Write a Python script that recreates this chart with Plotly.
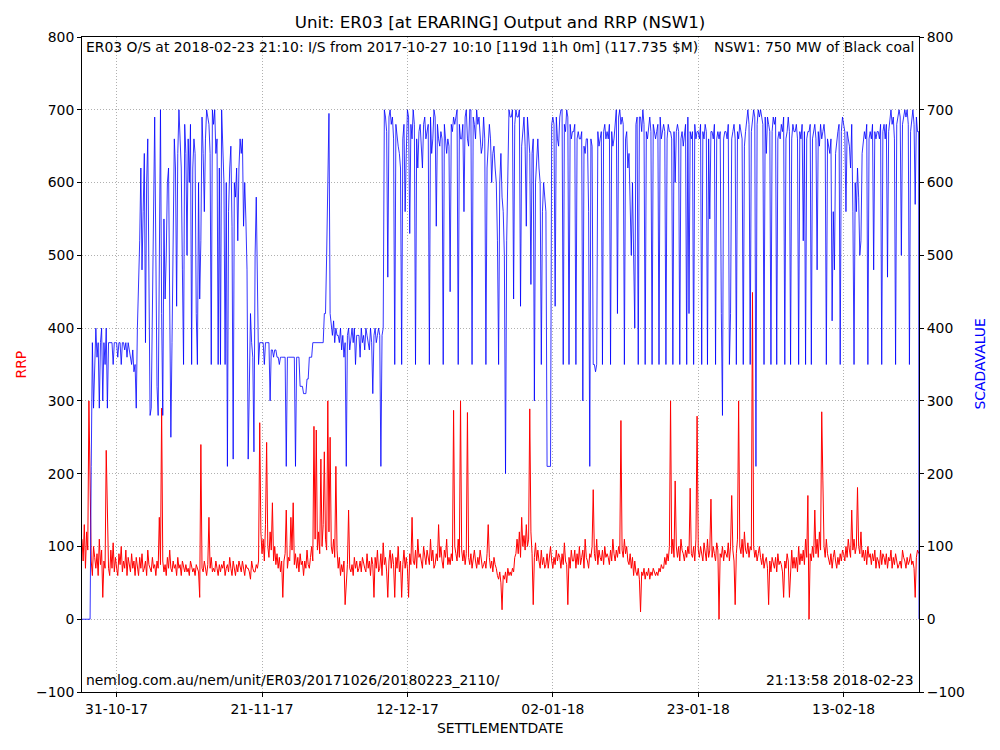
import pandas as pd
import plotly.graph_objects as go

# ---- data (4-hourly readings, 2017-10-26 00:00 onward) ----
start_time = "2017-10-26 00:00"
final_time = "2018-02-23 21:10"

scada_mw = [
    0, 0, 0, 0, 0, 0,
    0, 0, 210, 380, 290, 370,
    400, 360, 380, 290, 380, 400,
    300, 380, 350, 400, 290, 380,
    380, 380, 380, 350, 380, 380,
    380, 360, 380, 380, 350, 380,
    380, 370, 380, 360, 380, 370,
    360, 350, 370, 340, 350, 290,
    400, 450, 520, 620, 480, 560,
    640, 380, 600, 660, 450, 280,
    290, 460, 560, 690, 500, 320,
    280, 560, 700, 420, 280, 550,
    440, 500, 600, 620, 400, 250,
    380, 500, 660, 620, 430, 640,
    700, 660, 620, 480, 350, 680,
    640, 500, 660, 600, 680, 350,
    620, 660, 640, 420, 350, 600,
    440, 520, 690, 640, 560, 660,
    700, 690, 680, 640, 350, 700,
    680, 700, 640, 660, 350, 620,
    350, 700, 650, 600, 350, 600,
    210, 560, 620, 650, 540, 220,
    600, 580, 620, 520, 620, 660,
    640, 660, 540, 600, 550, 480,
    220, 350, 420, 380, 360, 230,
    500, 580, 420, 350, 380, 380,
    380, 380, 350, 380, 380, 380,
    380, 300, 370, 370, 360, 370,
    370, 360, 360, 350, 360, 360,
    360, 360, 360, 210, 360, 360,
    360, 360, 360, 360, 360, 210,
    360, 360, 360, 320, 320, 320,
    310, 310, 310, 330, 330, 360,
    360, 360, 380, 380, 380, 380,
    380, 380, 380, 380, 380, 380,
    420, 420, 500, 620, 695, 420,
    400, 390, 410, 380, 400, 390,
    390, 380, 400, 370, 390, 360,
    380, 210, 390, 400, 370, 390,
    400, 380, 400, 350, 390, 390,
    390, 360, 400, 380, 390, 370,
    400, 390, 380, 370, 400, 380,
    310, 390, 400, 380, 390, 400,
    390, 210, 390, 400, 700, 690,
    670, 470, 690, 700, 680, 690,
    660, 350, 680, 660, 650, 640,
    620, 350, 660, 680, 560, 640,
    700, 690, 530, 680, 660, 700,
    680, 350, 660, 620, 670, 680,
    640, 620, 680, 690, 660, 670,
    680, 350, 690, 640, 660, 700,
    690, 540, 680, 660, 650, 670,
    660, 350, 680, 660, 640, 660,
    650, 450, 680, 670, 690, 680,
    690, 700, 350, 680, 660, 660,
    680, 560, 690, 700, 660, 650,
    700, 700, 350, 690, 680, 660,
    700, 680, 690, 660, 640, 650,
    690, 660, 350, 620, 660, 680,
    660, 600, 640, 650, 620, 600,
    520, 350, 600, 640, 580, 560,
    500, 200, 520, 640, 700, 690,
    690, 700, 440, 680, 700, 690,
    690, 700, 430, 650, 670, 690,
    650, 540, 690, 660, 640, 460,
    640, 660, 300, 600, 640, 660,
    620, 600, 350, 560, 600, 580,
    560, 210, 210, 210, 210, 680,
    690, 680, 430, 690, 660, 650,
    690, 700, 700, 350, 680, 670,
    700, 690, 350, 680, 660, 670,
    670, 680, 350, 660, 670, 660,
    660, 670, 300, 650, 640, 660,
    660, 560, 210, 660, 650, 350,
    350, 340, 350, 670, 650, 660,
    670, 350, 670, 680, 660, 670,
    660, 680, 350, 670, 650, 660,
    680, 700, 420, 690, 700, 680,
    690, 680, 350, 660, 670, 620,
    640, 580, 500, 600, 520, 400,
    680, 690, 350, 690, 690, 670,
    700, 680, 350, 670, 660, 680,
    690, 670, 350, 680, 670, 660,
    670, 680, 350, 690, 660, 670,
    680, 670, 350, 660, 680, 670,
    670, 660, 350, 670, 600, 670,
    680, 670, 350, 660, 670, 650,
    670, 680, 350, 690, 420, 670,
    660, 670, 350, 680, 660, 670,
    670, 660, 680, 350, 670, 660,
    680, 670, 350, 660, 550, 670,
    670, 660, 680, 350, 660, 670,
    660, 670, 420, 280, 660, 670,
    670, 660, 680, 350, 420, 660,
    670, 680, 660, 350, 670, 660,
    680, 670, 660, 350, 650, 670,
    690, 700, 680, 350, 670, 690,
    700, 690, 210, 680, 700, 690,
    700, 690, 680, 350, 690, 640,
    690, 680, 670, 350, 670, 690,
    680, 690, 350, 660, 670, 660,
    680, 670, 690, 350, 660, 670,
    690, 670, 350, 660, 680, 670,
    670, 680, 660, 350, 670, 660,
    680, 520, 670, 350, 660, 670,
    670, 680, 350, 660, 670, 680,
    660, 480, 670, 650, 680, 660,
    670, 680, 660, 350, 660, 650,
    640, 660, 410, 560, 480, 640,
    660, 670, 680, 350, 670, 690,
    680, 670, 560, 670, 660, 650,
    620, 680, 560, 350, 600, 560,
    620, 580, 500, 520, 640, 660,
    670, 660, 680, 350, 660, 670,
    660, 680, 480, 670, 660, 670,
    670, 660, 680, 350, 670, 680,
    660, 680, 470, 670, 690, 700,
    680, 690, 660, 350, 680, 690,
    700, 690, 500, 680, 690, 700,
    690, 700, 680, 350, 670, 690,
    700, 680, 570, 690, 670, 670,
    0,
]

rrp = [
    110, 80, 130, 70, 120, 95,
    300, 150, 80, 60, 100, 85,
    70, 90, 60, 110, 75, 95,
    30, 80, 70, 232, 140, 70,
    60, 95, 70, 105, 65, 85,
    70, 60, 90, 75, 100, 65,
    80, 70, 95, 60, 85, 75,
    65, 90, 70, 80, 60, 85,
    75, 60, 85, 70, 90, 65,
    70, 80, 60, 95, 75, 70,
    65, 85, 70, 75, 60, 80,
    70, 140, 75, 290, 80, 65,
    75, 60, 85, 70, 95, 70,
    65, 80, 70, 75, 60, 85,
    70, 75, 60, 80, 70, 65,
    75, 65, 70, 60, 80, 70,
    65, 70, 60, 75, 70, 65,
    30, 240, 70, 65, 80, 70,
    60, 75, 140, 70, 85, 65,
    70, 65, 80, 70, 60, 75,
    65, 75, 70, 80, 60, 70,
    75, 65, 85, 70, 60, 80,
    70, 60, 75, 65, 80, 70,
    65, 80, 70, 60, 75, 70,
    70, 65, 55, 80, 70, 65,
    65, 75, 70, 80, 270, 120,
    90, 110, 80, 130, 243, 100,
    85, 120, 95, 160, 80, 100,
    75, 90, 70, 85, 65, 80,
    30, 80, 90, 150, 70, 85,
    80, 140, 95, 160, 75, 90,
    70, 85, 65, 90, 75, 80,
    60, 80, 70, 95, 75, 70,
    85, 100, 80, 265, 110, 260,
    95, 120, 90, 220, 100, 130,
    230, 110, 95, 300, 120, 250,
    100, 90, 110, 85, 210, 95,
    70, 85, 60, 75, 65, 80,
    20, 60, 75, 150, 70, 65,
    75, 60, 85, 70, 80, 65,
    70, 80, 65, 85, 75, 70,
    65, 90, 70, 80, 60, 85,
    75, 30, 85, 70, 95, 65,
    70, 90, 60, 105, 75, 85,
    65, 30, 80, 95, 70, 90,
    75, 30, 85, 70, 100, 65,
    80, 30, 75, 95, 70, 85,
    70, 30, 90, 75, 140, 80,
    75, 95, 70, 110, 85, 90,
    80, 70, 100, 85, 75, 95,
    85, 75, 110, 80, 95, 70,
    75, 90, 80, 130, 85, 100,
    80, 70, 95, 85, 110, 75,
    85, 75, 90, 80, 287, 100,
    90, 80, 110, 85, 300, 95,
    80, 95, 75, 90, 284, 85,
    75, 90, 70, 85, 95, 80,
    70, 85, 75, 95, 80, 70,
    75, 80, 70, 90, 130, 85,
    70, 80, 65, 85, 75, 70,
    60, 55, 65, 50, 13, 60,
    55, 65, 50, 70, 60, 65,
    60, 70, 65, 85, 90, 110,
    90, 120, 85, 140, 100, 115,
    95, 130, 100, 110, 289, 120,
    90, 20, 85, 105, 80, 95,
    80, 70, 95, 75, 85, 70,
    75, 90, 70, 85, 100, 80,
    70, 85, 75, 95, 80, 90,
    85, 70, 90, 75, 105, 80,
    75, 20, 85, 70, 95, 80,
    80, 95, 70, 90, 75, 100,
    75, 85, 95, 70, 110, 85,
    80, 70, 90, 85, 100, 178,
    90, 80, 110, 75, 95, 85,
    80, 95, 75, 100, 85, 90,
    85, 75, 95, 80, 110, 90,
    80, 95, 85, 100, 90, 273,
    95, 85, 110, 90, 100, 80,
    75, 90, 70, 85, 60, 80,
    65, 60, 70, 55, 10, 65,
    60, 70, 55, 65, 60, 70,
    55, 65, 60, 70, 65, 60,
    65, 60, 70, 65, 75, 70,
    70, 85, 75, 90, 80, 100,
    300, 90, 110, 85, 190, 100,
    85, 100, 80, 110, 95, 90,
    80, 95, 85, 100, 90, 180,
    90, 85, 100, 80, 110, 279,
    95, 85, 100, 90, 80, 105,
    90, 80, 110, 85, 95, 165,
    85, 100, 90, 80, 105, 95,
    0, 90, 85, 100, 80, 95,
    90, 85, 105, 80, 100, 170,
    95, 80, 20, 90, 110, 300,
    100, 90, 110, 85, 120, 95,
    90, 105, 85, 100, 95, 449,
    100, 85, 95, 80, 90, 100,
    85, 75, 90, 70, 80, 85,
    70, 20, 80, 65, 85, 75,
    70, 85, 65, 90, 75, 80,
    75, 65, 30, 80, 70, 90,
    80, 30, 75, 95, 70, 85,
    70, 85, 65, 100, 75, 90,
    80, 95, 75, 110, 85, 170,
    0, 90, 80, 100, 85, 150,
    90, 110, 85, 120, 95, 285,
    190, 100, 85, 110, 90, 80,
    75, 90, 70, 85, 95, 80,
    70, 85, 75, 90, 80, 95,
    90, 80, 100, 85, 110, 95,
    85, 150, 95, 110, 90, 100,
    181, 100, 90, 120, 85, 95,
    80, 95, 75, 100, 85, 90,
    75, 90, 80, 95, 70, 85,
    80, 70, 95, 75, 90, 85,
    75, 90, 70, 85, 80, 95,
    70, 85, 75, 90, 80, 70,
    75, 80, 70, 95, 85, 80,
    70, 85, 75, 80, 90, 75,
    80, 70, 30, 85, 95, 90,
    90,
]

tick_dates = ["2017-10-31", "2017-11-21", "2017-12-12", "2018-01-02", "2018-01-23", "2018-02-13"]
tick_labels = ["31-10-17", "21-11-17", "12-12-17", "02-01-18", "23-01-18", "13-02-18"]
y_ticks = [-100, 0, 100, 200, 300, 400, 500, 600, 700, 800]

# ---- time axis ----
n_regular = len(scada_mw) - 1
times = list(pd.date_range(start_time, periods=n_regular, freq="4h")) + [pd.Timestamp(final_time)]

FONT = "DejaVu Sans"
fig = go.Figure()
fig.add_trace(go.Scatter(x=times, y=rrp, mode="lines", line=dict(color="#ff0000", width=1.0),
                         name="RRP", yaxis="y", showlegend=False))
fig.add_trace(go.Scatter(x=times, y=scada_mw, mode="lines", line=dict(color="#0000ff", width=0.8),
                         name="SCADAVALUE", yaxis="y2", showlegend=False))

grid = dict(showgrid=True, gridcolor="#b0b0b0", griddash="1px,2px", gridwidth=1)
axis_common = dict(showline=True, linecolor="black", linewidth=1, ticks="outside", ticklen=4,
                   tickwidth=0.8, tickcolor="black", tickfont=dict(size=13.9, color="black", family=FONT),
                   zeroline=False)

ann_font = dict(size=13.9, family=FONT, color="black")

fig.update_layout(
    width=1000, height=750,
    margin=dict(l=82, r=81, t=37, b=58),
    paper_bgcolor="white", plot_bgcolor="white",
    font=dict(family=FONT, color="black"),
    title=dict(text="Unit: ER03 [at ERARING] Output and RRP (NSW1)", x=0.5, xanchor="center",
               y=1 - 22 / 750, yanchor="middle", yref="container",
               font=dict(size=16.7, family=FONT, color="black")),
    xaxis=dict(type="date", range=[start_time, final_time], tickvals=tick_dates, ticktext=tick_labels,
               mirror=True, **grid, **axis_common),
    yaxis=dict(range=[-100, 800], tickvals=y_ticks, **grid, **axis_common),
    yaxis2=dict(range=[-100, 800], tickvals=y_ticks, overlaying="y", side="right", showgrid=False,
                **axis_common),
    annotations=[
        dict(text="ER03 O/S at 2018-02-23 21:10: I/S from 2017-10-27 10:10 [119d 11h 0m] (117.735 $M)",
             xref="paper", yref="paper", x=0, y=1, xanchor="left", yanchor="top", xshift=2, yshift=0,
             showarrow=False, font=ann_font),
        dict(text="NSW1: 750 MW of Black coal",
             xref="paper", yref="paper", x=1, y=1, xanchor="right", yanchor="top", xshift=-3, yshift=0,
             showarrow=False, font=ann_font),
        dict(text="nemlog.com.au/nem/unit/ER03/20171026/20180223_2110/",
             xref="paper", yref="paper", x=0, y=0, xanchor="left", yanchor="bottom", xshift=2, yshift=2,
             showarrow=False, font=ann_font),
        dict(text="21:13:58 2018-02-23",
             xref="paper", yref="paper", x=1, y=0, xanchor="right", yanchor="bottom", xshift=-3, yshift=2,
             showarrow=False, font=ann_font),
        dict(text="RRP", xref="paper", yref="paper", x=0, y=0.5, xanchor="center", yanchor="middle",
             xshift=-62, textangle=-90, showarrow=False, font=dict(size=13.9, family=FONT, color="#ff0000")),
        dict(text="SCADAVALUE", xref="paper", yref="paper", x=1, y=0.5, xanchor="center", yanchor="middle",
             xshift=60, textangle=-90, showarrow=False, font=dict(size=13.9, family=FONT, color="#0000ff")),
        dict(text="SETTLEMENTDATE", xref="paper", yref="paper", x=0.5, y=0, xanchor="center",
             yanchor="middle", yshift=-36, showarrow=False, font=dict(size=13.9, family=FONT, color="black")),
    ],
)

fig.write_html("out.html")
